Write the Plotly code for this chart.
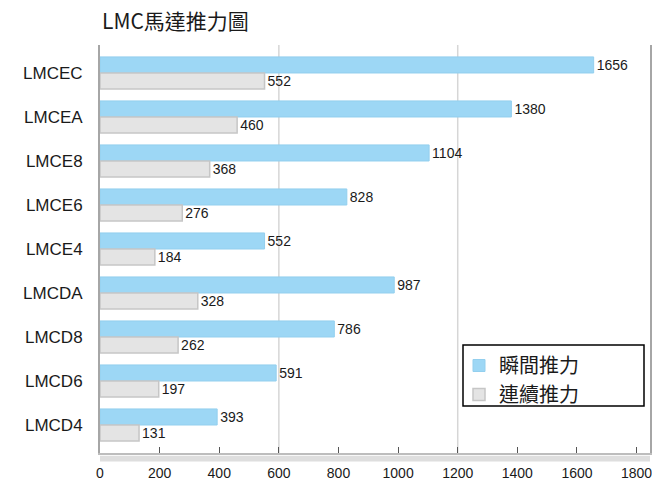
import plotly.graph_objects as go

categories = ["LMCEC", "LMCEA", "LMCE8", "LMCE6", "LMCE4", "LMCDA", "LMCD8", "LMCD6", "LMCD4"]
peak_force = [1656, 1380, 1104, 828, 552, 987, 786, 591, 393]
continuous_force = [552, 460, 368, 276, 184, 328, 262, 197, 131]
series_names = ["瞬間推力", "連續推力"]
x_ticks = [0, 200, 400, 600, 800, 1000, 1200, 1400, 1600, 1800]
grid_vals = [600, 1200]

L, R, T, B = 100, 2, 45, 33
W, H = 652, 486
PW, PH = W - L - R, H - T - B

def px_x(x):
    return (x - L) / PW

def px_y(y):
    return (H - B - y) / PH

fig = go.Figure()
fig.add_trace(go.Bar(
    y=categories, x=peak_force, orientation="h", name=series_names[0],
    marker=dict(color="#9DD7F5", line=dict(color="#93CFEE", width=1)),
    text=peak_force, textposition="outside", cliponaxis=False,
    textfont=dict(size=14, color="#1a1a1a", family="Liberation Sans, Arial"),
    constraintext="none",
))
fig.add_trace(go.Bar(
    y=categories, x=continuous_force, orientation="h", name=series_names[1],
    marker=dict(color="#E4E4E4", line=dict(color="#C6C6C6", width=1.5)),
    text=continuous_force, textposition="outside", cliponaxis=False,
    textfont=dict(size=14, color="#1a1a1a", family="Liberation Sans, Arial"),
    constraintext="none",
))

shapes = [dict(type="line", xref="x", yref="paper", x0=g, x1=g, y0=0, y1=1,
               line=dict(color="#D6D6D6", width=1.5), layer="below") for g in grid_vals]
shapes.append(dict(type="rect", xref="paper", yref="paper", x0=0, x1=1,
                   y0=-0.021, y1=-0.007, fillcolor="#DEDEDE", line=dict(width=0),
                   layer="below"))
shapes.append(dict(type="rect", xref="paper", yref="paper",
                   x0=px_x(463), x1=px_x(644), y0=px_y(406), y1=px_y(345),
                   fillcolor="white", line=dict(color="#000000", width=1.5),
                   layer="above"))

fig.update_layout(
    width=W, height=H,
    margin=dict(l=L, r=R, t=T, b=B, autoexpand=False),
    paper_bgcolor="white", plot_bgcolor="white",
    barmode="group", bargap=0.27, bargroupgap=0.0,
    title=dict(text="LMC馬達推力圖", x=px_x(102), xref="paper",
               xanchor="left", y=1 - 22 / H, yanchor="middle",
               font=dict(family="Noto Sans CJK TC", size=21, color="#1a1a1a")),
    font=dict(family="Liberation Sans, Arial", color="#1a1a1a"),
    xaxis=dict(range=[0, 1845], tickvals=x_ticks, ticktext=[str(v) for v in x_ticks],
               showgrid=False, zeroline=False, automargin=False,
               ticks="inside", ticklen=6, tickcolor="#555555", tickwidth=1.2,
               showline=True, linecolor="#BDBDBD", linewidth=1.5, mirror=False,
               tickfont=dict(size=14), ticklabelstandoff=6, ticklabeloverflow="allow"),
    xaxis2=dict(range=[0, 1845], overlaying="x", side="top", showticklabels=False,
                ticks="", showgrid=False, zeroline=False, showline=True,
                linecolor="#BDBDBD", linewidth=1.5),
    yaxis=dict(categoryorder="array", categoryarray=categories, automargin=False,
               range=[8.636, -0.636], showgrid=False, zeroline=False,
               showline=True, linecolor="#A6A6A6", linewidth=2, mirror=True,
               ticks="", tickfont=dict(size=17), ticklabelstandoff=12),
    legend=dict(x=px_x(459), y=px_y(346), xanchor="left", yanchor="top",
                bgcolor="rgba(0,0,0,0)", borderwidth=0,
                font=dict(family="Noto Sans CJK TC", size=20, color="#1a1a1a"),
                traceorder="normal"),
    shapes=shapes,
    showlegend=True,
)

fig.write_html("out.html", config={"displayModeBar": False},
               post_script="document.body.style.margin='0';")
